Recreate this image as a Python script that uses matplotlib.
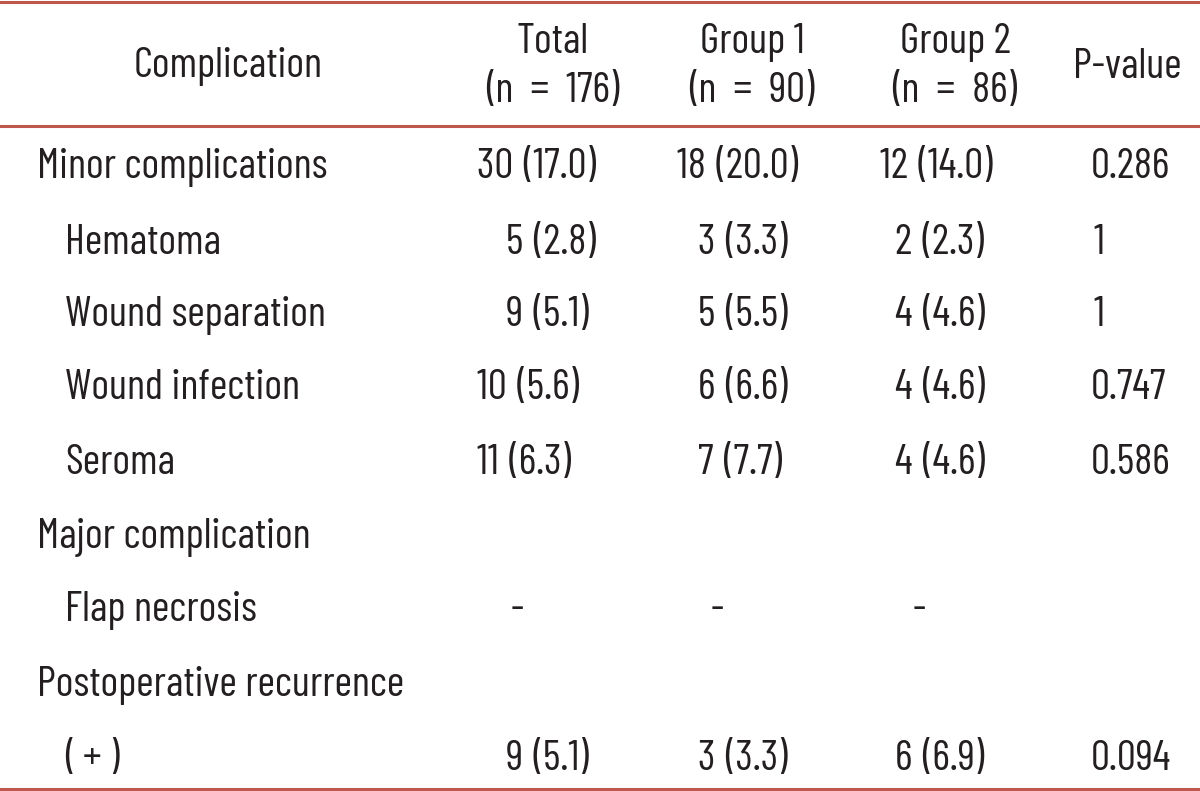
import matplotlib.pyplot as plt
from matplotlib import font_manager

# pick a condensed font, the reference uses a narrow grotesque
names = {f.name for f in font_manager.fontManager.ttflist}
choices = ['Barlow Condensed', 'Roboto Condensed', 'Archivo Narrow', 'Liberation Sans Narrow']
family = [c for c in choices if c in names][:1] + ['DejaVu Sans']
plt.rcParams['font.family'] = family

# ---- table data ----
header_label = "Complication"
header_top = ["Total", "Group 1", "Group 2"]
header_bottom = ["(n  =  176)", "(n  =  90)", "(n  =  86)"]
header_p = "P-value"

row_labels = ["Minor complications", "Hematoma", "Wound separation", "Wound infection",
              "Seroma", "Major complication", "Flap necrosis",
              "Postoperative recurrence", "( + )"]
row_indent = [0, 1, 1, 1, 1, 0, 1, 0, 1]

total = ["30 (17.0)", "5 (2.8)", "9 (5.1)", "10 (5.6)", "11 (6.3)", "", "-", "", "9 (5.1)"]
group1 = ["18 (20.0)", "3 (3.3)", "5 (5.5)", "6 (6.6)", "7 (7.7)", "", "-", "", "3 (3.3)"]
group2 = ["12 (14.0)", "2 (2.3)", "4 (4.6)", "4 (4.6)", "4 (4.6)", "", "-", "", "6 (6.9)"]
pvalue = ["0.286", "1", "1", "0.747", "0.586", "", "", "", "0.094"]

W, H = 1200, 791
fig = plt.figure(figsize=(W / 100, H / 100), dpi=100)
ax = fig.add_axes([0, 0, 1, 1])
ax.set_xlim(0, W)
ax.set_ylim(H, 0)
ax.axis('off')

red = '#c0574c'
ink = '#231f20'
fs = 30.5
kw = dict(fontsize=fs, color=ink, fontweight='normal', va='baseline')

for y in [2, 126, 789]:
    ax.axhline(y, color=red, lw=2.2)

# header
ax.text(228, 77, header_label, ha='center', **kw)
for x, top, bot in zip([553, 752, 955], header_top, header_bottom):
    ax.text(x, 53, top, ha='center', **kw)
    ax.text(x, 102, bot, ha='center', **kw)
ax.text(1127, 78, header_p, ha='center', **kw)

# body
row_base = [178, 254, 326, 399, 474, 548, 621, 696, 770]
for y, lab, ind in zip(row_base, row_labels, row_indent):
    ax.text(37 + 28 * ind, y, lab, ha='left', **kw)


def put_col(values, x_wide, x_narrow, x_dash):
    for y, v in zip(row_base, values):
        if not v:
            continue
        if v == "-":
            x = x_dash
        elif len(v.split(" ")[0]) > 1:
            x = x_wide
        else:
            x = x_narrow
        # slightly wider gap before the bracket, like the reference
        ax.text(x, y, v.replace(" ", "\u2005"), ha='left', **kw)


put_col(total, 477, 506, 511)
put_col(group1, 677, 698, 711)
put_col(group2, 880, 895, 913)

for y, v in zip(row_base, pvalue):
    if v:
        ax.text(1091 if len(v) > 1 else 1094, y, v, ha='left', **kw)

fig.savefig('out.png', dpi=100)
